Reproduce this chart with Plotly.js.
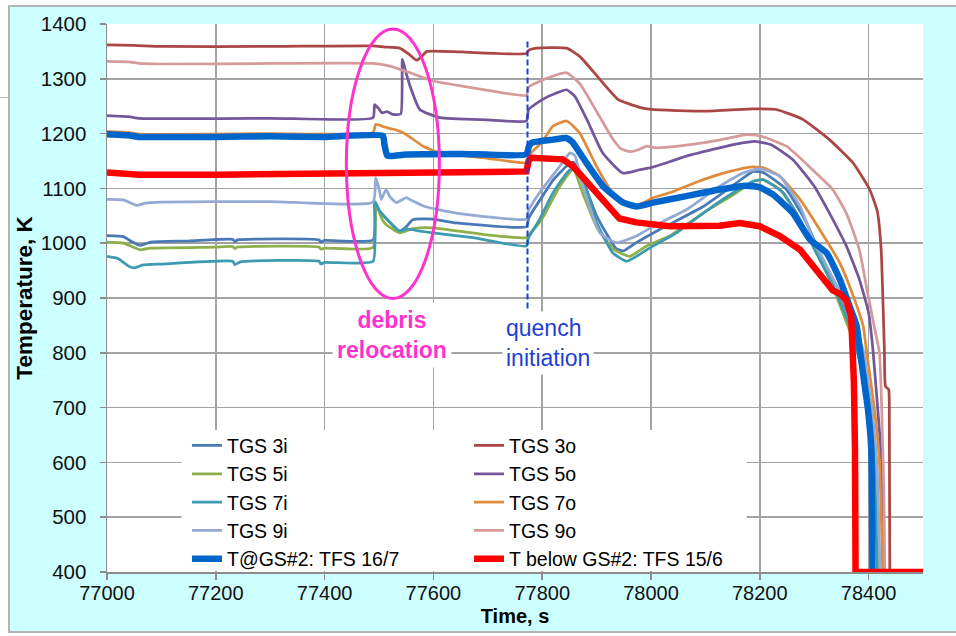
<!DOCTYPE html>
<html>
<head>
<meta charset="utf-8">
<script src="https://cdn.plot.ly/plotly-3.0.1.min.js"></script>
<style>
  html, body { margin:0; padding:0; background:#ffffff; overflow:hidden; width:956px; height:636px; }
  #frame { position:absolute; left:8px; top:5px; width:946px; height:624px;
           border-top:2px solid #b4b4b4; border-left:2px solid #b4b4b4; border-bottom:2px solid #b4b4b4;
           background:#ccffff; }
  #chart { width:946px; height:624px; }
  #mark { position:absolute; left:0; top:97px; width:9px; height:1px; background:#bbbbbb; }
</style>
</head>
<body>
<div id="mark"></div>
<div id="frame"><div id="chart"></div></div>
<script>
// ---- data ----
const seriesNames = ["TGS 3i","TGS 3o","TGS 5i","TGS 5o","TGS 7i","TGS 7o","TGS 9i","TGS 9o","T@GS#2: TFS 16/7","T below GS#2: TFS 15/6"];

const t3i = [77000,77030,77045,77061,77080,77150,77231,77235,77240,77390,77393,77400,77489,77494,77500,77510,77538,77550,77562,77599,77642,77771,77775,77781,77800,77820,77844,77857,77869,77900,77936,77949,77973,78016,78096,78157,78188,78206,78249,78286,78310,78341,78370,78390,78405,78414,78420];
const T3i = [1014,1012,1003,996,1002,1004,1007,1003,1006,1006,1002,1005,1006,1074,1060,1048,1022,1030,1043,1044,1037,1030,1045,1056,1085,1115,1140,1148,1130,1050,990,986,1001,1025,1067,1110,1131,1129,1098,1037,982,922,850,780,700,600,400];

const t3o = [77000,77050,77100,77300,77490,77510,77538,77555,77569,77578,77588,77650,77771,77775,77790,77845,77870,77906,77940,77979,78000,78100,78187,78230,78279,78328,78371,78402,78416,78423,78429,78431,78437,78438,78439];
const T3o = [1362,1361,1359,1359,1360,1358,1356,1345,1334,1340,1350,1349,1346,1352,1356,1356,1340,1299,1262,1248,1244,1241,1245,1244,1226,1189,1147,1098,1058,990,805,739,733,708,400];

const t5i = [77000,77030,77050,77061,77080,77200,77231,77235,77240,77390,77393,77400,77489,77494,77505,77513,77538,77560,77575,77599,77700,77771,77775,77780,77800,77830,77857,77875,77900,77930,77949,77961,77992,78034,78096,78157,78188,78206,78237,78267,78298,78323,78350,78380,78400,78412,78418];
const T5i = [1002,1000,992,988,991,993,994,990,993,993,989,991,992,1074,1045,1034,1019,1026,1028,1028,1015,1010,1015,1020,1045,1100,1135,1090,1030,990,980,976,995,1013,1055,1092,1113,1116,1098,1055,995,946,880,800,700,600,400];

const t5o = [77000,77040,77060,77300,77489,77492,77500,77505,77515,77525,77540,77543,77550,77557,77575,77612,77700,77771,77775,77800,77826,77845,77860,77882,77911,77948,77979,78000,78020,78065,78126,78168,78190,78220,78260,78300,78328,78359,78383,78400,78408,78417,78424,78429];
const T5o = [1233,1231,1228,1228,1229,1253,1245,1238,1240,1235,1236,1336,1310,1287,1244,1229,1225,1223,1244,1262,1274,1280,1268,1226,1165,1128,1134,1138,1144,1159,1174,1183,1186,1180,1153,1104,1055,995,934,873,805,695,600,400];

const t7i = [77000,77020,77040,77050,77065,77100,77231,77235,77245,77390,77393,77400,77489,77492,77500,77510,77538,77550,77575,77599,77673,77771,77775,77795,77820,77851,77869,77900,77930,77955,77973,78004,78047,78096,78151,78188,78206,78243,78274,78304,78335,78365,78385,78400,78410,78416];
const T7i = [976,972,958,955,960,962,967,961,966,967,962,965,967,1077,1060,1049,1022,1026,1022,1019,1010,995,1010,1043,1092,1134,1131,1038,982,967,976,995,1019,1055,1092,1113,1116,1092,1043,982,922,850,780,700,600,400];

const t7o = [77000,77040,77060,77300,77489,77494,77510,77530,77545,77555,77581,77612,77700,77771,77775,77800,77819,77845,77869,77900,77937,77970,78004,78034,78096,78145,78182,78206,78237,78274,78310,78347,78372,78390,78396,78411,78420,78426];
const T7o = [1204,1202,1199,1200,1202,1217,1212,1207,1201,1195,1177,1165,1155,1147,1160,1185,1213,1223,1201,1140,1080,1067,1083,1092,1116,1131,1139,1138,1122,1080,1025,964,903,849,805,695,600,400];

const t9i = [77000,77030,77055,77070,77100,77300,77489,77494,77500,77504,77513,77520,77532,77550,77560,77584,77642,77771,77775,77795,77832,77851,77860,77875,77906,77936,77973,78004,78065,78126,78169,78200,78237,78274,78298,78323,78353,78390,78405,78415,78421];
const T9i = [1080,1079,1069,1073,1075,1076,1075,1119,1100,1080,1098,1085,1074,1083,1078,1067,1055,1044,1060,1092,1140,1165,1160,1104,1019,1001,1013,1031,1061,1104,1128,1136,1122,1067,1007,958,897,805,700,600,400];

const t9o = [77000,77040,77060,77100,77300,77489,77520,77560,77599,77650,77700,77771,77775,77790,77820,77845,77870,77906,77930,77945,77962,77978,77992,78010,78050,78095,78144,78175,78200,78249,78297,78334,78359,78383,78398,78410,78420,78424,78428,78430];
const T9o = [1332,1331,1328,1327,1328,1328,1323,1310,1296,1287,1279,1270,1285,1293,1305,1311,1290,1230,1190,1172,1167,1171,1177,1174,1177,1183,1192,1198,1196,1177,1134,1098,1055,988,910,850,800,700,550,400];

const tGS2 = [77000,77040,77060,77200,77300,77400,77507,77510,77515,77525,77550,77650,77771,77775,77780,77820,77844,77855,77881,77912,77949,77973,78004,78065,78126,78175,78200,78224,78261,78292,78323,78347,78365,78378,78384,78392,78399,78405,78407];
const TGS2 = [1199,1197,1194,1194,1195,1194,1196,1180,1160,1159,1162,1163,1162,1175,1183,1189,1192,1185,1147,1104,1074,1067,1074,1086,1098,1105,1102,1089,1055,1007,982,934,885,849,805,746,695,624,400];

const tBelow = [77000,77040,77060,77200,77400,77500,77600,77700,77771,77775,77780,77838,77857,77900,77930,77942,77973,78034,78126,78163,78200,78237,78274,78298,78308,78322,78334,78347,78359,78368,78371,78373,78375,78376,78500];
const TBelow = [1129,1128,1125,1125,1126,1127,1128,1130,1131,1150,1156,1153,1140,1092,1058,1045,1038,1031,1032,1037,1031,1013,988,957,947,926,914,908,896,866,805,745,622,400,400];

const xTicks = [77000,77200,77400,77600,77800,78000,78200,78400];
const yTicks = [400,500,600,700,800,900,1000,1100,1200,1300,1400];

// events marked on the chart
const relocationT = [77440, 77611];   // ellipse time span
const relocationK = [899, 1391];      // ellipse temperature span
const quenchTime = 77773;
const quenchK = [881, 1370];

// ---- styling ----
const colors = ["#4A7AB5","#AA4643","#8DB04B","#72589A","#3C9BB0","#E08A3C","#93AAD4","#D59B9B","#0066CC","#FF0000"];
const widths = [2.75,2.75,2.75,2.75,2.75,2.75,2.75,2.75,6.5,6.5];
const shapesOf = ["spline","spline","spline","spline","spline","spline","spline","spline","spline","linear"];
const legendOf = ["legend","legend2","legend","legend2","legend","legend2","legend","legend2","legend","legend2"];
const xs = [t3i,t3o,t5i,t5o,t7i,t7o,t9i,t9o,tGS2,tBelow];
const ys = [T3i,T3o,T5i,T5o,T7i,T7o,T9i,T9o,TGS2,TBelow];

const traces = seriesNames.map((n,i)=>({
  type:'scatter', mode:'lines', name:n, x:xs[i], y:ys[i],
  line:{color:colors[i], width:widths[i], shape:shapesOf[i], smoothing:0.45},
  legend: legendOf[i], hoverinfo:'skip'
}));

const font = "Liberation Sans, Arial, sans-serif";
const legFont = {family:font, size:19.5, color:'#000'};

const layout = {
  width:946, height:624,
  margin:{l:97, r:33, t:17, b:59},
  paper_bgcolor:'#ccffff', plot_bgcolor:'#ffffff',
  showlegend:true,
  font:{family:font, color:'#000'},
  xaxis:{
    range:[77000,78500], tickvals:xTicks, tickformat:'d',
    ticks:'outside', ticklen:6, tickcolor:'#8c8c8c', tickwidth:1.5,
    showline:true, linecolor:'#8c8c8c', linewidth:1.5,
    showgrid:true, gridcolor:'#a3a3a3', gridwidth:1.5, zeroline:false,
    tickfont:{family:font, size:20, color:'#111'},
    ticklabelstandoff:-4,
    title:{text:'<b>Time, s</b>', font:{family:font, size:20, color:'#000'}, standoff:6}
  },
  yaxis:{
    range:[400,1400], tickvals:yTicks,
    ticks:'outside', ticklen:6, tickcolor:'#8c8c8c', tickwidth:1.5,
    showline:true, linecolor:'#8c8c8c', linewidth:1.5,
    showgrid:true, gridcolor:'#a3a3a3', gridwidth:1.5, zeroline:false,
    tickfont:{family:font, size:20.5, color:'#111'},
    ticklabelstandoff:9,
    title:{text:'<b>Temperature, K</b>', font:{family:font, size:22.5, color:'#000'}, standoff:2}
  },
  legend:{x:0.098, y:0.266, xanchor:'left', yanchor:'top', bgcolor:'rgba(0,0,0,0)', borderwidth:0, font:legFont, traceorder:'normal'},
  legend2:{x:0.4436, y:0.266, xanchor:'left', yanchor:'top', bgcolor:'rgba(0,0,0,0)', borderwidth:0, font:legFont, traceorder:'normal'},
  shapes:[
    {type:'rect', xref:'x', yref:'y', x0:77137, x1:78176, y0:402, y1:659, fillcolor:'#ffffff', line:{width:0}, layer:'between'},
    {type:'line', xref:'x', yref:'y', x0:quenchTime, x1:quenchTime, y0:quenchK[0], y1:quenchK[1], line:{color:'#1f3fd6', width:2, dash:'6px,3px'}, layer:'above'},
    {type:'circle', xref:'x', yref:'y', x0:relocationT[0], x1:relocationT[1], y0:relocationK[0], y1:relocationK[1], line:{color:'#ff33cc', width:3}, layer:'above'}
  ],
  annotations:[
    {xref:'x', yref:'y', x:77523, y:833, text:'<b>debris<br>relocation</b>', showarrow:false, align:'center',
     xanchor:'center', yanchor:'middle', bgcolor:'#ffffff', borderpad:4, font:{family:font, size:23, color:'#ff33cc'}},
    {xref:'x', yref:'y', x:77727, y:818, text:'quench<br>initiation', showarrow:false, align:'left',
     xanchor:'left', yanchor:'middle', bgcolor:'#ffffff', borderpad:3, font:{family:font, size:23, color:'#1f3fd6'}}
  ],
  hovermode:false
};

Plotly.newPlot('chart', traces, layout, {staticPlot:true, displayModeBar:false});
</script>
</body>
</html>
